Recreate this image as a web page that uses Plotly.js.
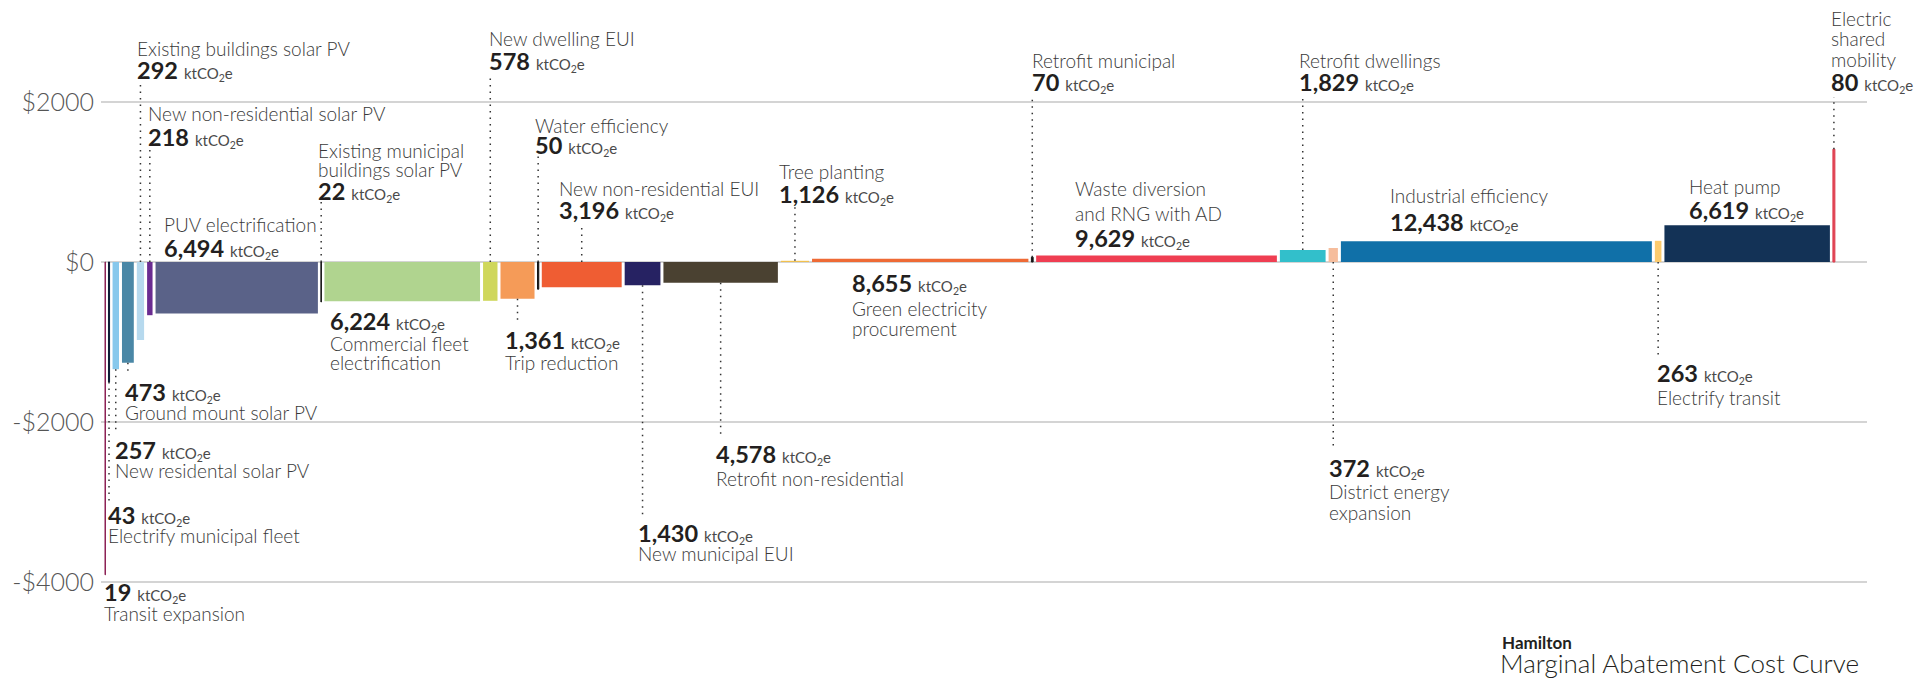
<!DOCTYPE html>
<html>
<head>
<meta charset="utf-8">
<script src="https://cdn.plot.ly/plotly-3.0.1.min.js"></script>
<style>
  html, body { margin: 0; padding: 0; background: #ffffff; }
  #chart { width: 1927px; height: 680px; }
</style>
</head>
<body>
<div id="chart"></div>
<script>
// ---------------- DATA ----------------
const categories = [
  'Transit expansion', 'Electrify municipal fleet', 'New residental solar PV', 'Ground mount solar PV',
  'Existing buildings solar PV', 'New non-residential solar PV', 'PUV electrification',
  'Existing municipal buildings solar PV', 'Commercial fleet electrification', 'New dwelling EUI',
  'Trip reduction', 'Water efficiency', 'New non-residential EUI', 'New municipal EUI',
  'Retrofit non-residential', 'Tree planting', 'Green electricity procurement', 'Retrofit municipal',
  'Waste diversion and RNG with AD', 'Retrofit dwellings', 'District energy expansion',
  'Industrial efficiency', 'Electrify transit', 'Heat pump', 'Electric shared mobility'
];
// abatement (ktCO2e) -> bar widths
const abatement = [19, 43, 257, 473, 292, 218, 6494, 22, 6224, 578, 1361, 50, 3196, 1430,
                   4578, 1126, 8655, 70, 9629, 1829, 372, 12438, 263, 6619, 80];
// marginal cost ($ / tCO2e) -> bar heights
const cost = [-3910, -1500, -1340, -1260, -975, -665, -645, -500, -490, -485, -460, -340, -315, -290,
              -260, 15, 40, 60, 80, 150, 175, 260, 265, 460, 1410];
const barColors = ['#8c2155', '#0e1a35', '#87c8ec', '#4a87a6', '#b6d9ee', '#6a2c91', '#5a6288',
                   '#1a1a1a', '#b0d48f', '#cfd75b', '#f59b58', '#151515', '#ef5d33', '#262262',
                   '#4a4131', '#f2c14e', '#ee6a35', '#151515', '#ef3e52', '#32bfcb', '#f6bd9c',
                   '#1070a8', '#fccb6e', '#133256', '#e04353'];
// label line wrapping (text)
const labelLines = [
  ['Transit expansion'], ['Electrify municipal fleet'], ['New residental solar PV'], ['Ground mount solar PV'],
  ['Existing buildings solar PV'], ['New non-residential solar PV'], ['PUV electrification'],
  ['Existing municipal', 'buildings solar PV'], ['Commercial fleet', 'electrification'], ['New dwelling EUI'],
  ['Trip reduction'], ['Water efficiency'], ['New non-residential EUI'], ['New municipal EUI'],
  ['Retrofit non-residential'], ['Tree planting'], ['Green electricity', 'procurement'], ['Retrofit municipal'],
  ['Waste diversion', 'and RNG with AD'], ['Retrofit dwellings'], ['District energy', 'expansion'],
  ['Industrial efficiency'], ['Electrify transit'], ['Heat pump'], ['Electric', 'shared', 'mobility']
];
const tickVals = [-4000, -2000, 0, 2000];
const tickText = ['-$4000', '-$2000', '$0', '$2000'];
const chartSubtitle = 'Hamilton';
const chartTitle = 'Marginal Abatement Cost Curve';

// ---------------- LAYOUT CONFIG (positions, not data) ----------------
const W = 1927, H = 680;
const M = {l: 101, r: 60, t: 5, b: 55};
const GAP = 120;                 // gap between blocks, in x units
const xRange = [-160, 70480];
const Y0PX = 262, UPP = 12.5;    // pixel row of $0 and $ per pixel
const yRange = [-(H - M.b - Y0PX) * UPP, (Y0PX - M.t) * UPP];
// label placement: side, x-offset (px) from bar centre, y-centres (px) of each text line, leader end (px)
const place = [
  {side: 'down', dx: -3,   ys: [592, 613],           lead: null},
  {side: 'down', dx: -3,   ys: [515, 535],           lead: 502},
  {side: 'down', dx: -3,   ys: [450, 470],           lead: 434},
  {side: 'down', dx: -5,   ys: [392, 412],           lead: 373},
  {side: 'up',   dx: -5,   ys: [48, 70],             lead: 80},
  {side: 'up',   dx: -4,   ys: [113, 137],           lead: 148},
  {side: 'up',   dx: -75,  ys: [224, 248],           lead: null},
  {side: 'up',   dx: -5,   ys: [150, 169, 191],      lead: 200},
  {side: 'down', dx: -74,  ys: [321, 343, 362],      lead: null},
  {side: 'up',   dx: -3,   ys: [38, 61],             lead: 75},
  {side: 'down', dx: -15,  ys: [340, 362],           lead: 323},
  {side: 'up',   dx: -5,   ys: [125, 145],           lead: 155},
  {side: 'up',   dx: -25,  ys: [188, 210],           lead: 227},
  {side: 'down', dx: -7,   ys: [533, 553],           lead: 517},
  {side: 'down', dx: -7,   ys: [454, 478],           lead: 437},
  {side: 'up',   dx: -18,  ys: [171, 194],           lead: 207},
  {side: 'down', dx: -70,  ys: [283, 308, 328],      lead: null},
  {side: 'up',   dx: -2,   ys: [60, 82],             lead: 97},
  {side: 'up',   dx: -84,  ys: [188, 213, 238],      lead: null},
  {side: 'up',   dx: -6,   ys: [60, 82],             lead: 97},
  {side: 'down', dx: -6,   ys: [468, 491, 512],      lead: 448},
  {side: 'up',   dx: -108, ys: [195, 222],           lead: null},
  {side: 'down', dx: -3,   ys: [373, 397],           lead: 358},
  {side: 'up',   dx: -60,  ys: [186, 210],           lead: null},
  {side: 'up',   dx: -5,   ys: [18, 38, 59, 82],     lead: 97}
];

const FONT = 'Lato, "Open Sans", sans-serif';
const plotH = H - M.t - M.b;
function yFromPx(py) { return (Y0PX - py) * UPP; }

// ---------------- BUILD ----------------
const xCenters = [];
let cum = 0;
abatement.forEach((w, i) => {
  xCenters.push(cum + w / 2);
  cum += w + GAP;
});

const fmt = n => n.toLocaleString('en-US');

const trace = {
  type: 'bar',
  x: xCenters,
  y: cost,
  width: abatement,
  marker: {
    color: barColors,
    line: {color: barColors, width: abatement.map(w => (w < 100 ? 1 : 0))}
  },
  textposition: 'none',
  hoverinfo: 'skip',
  showlegend: false
};

const annotations = [];
const shapes = [];

categories.forEach((c, i) => {
  const p = place[i];
  const numText = '<b>' + fmt(abatement[i]) + '</b> <span style="font-size:15px;color:#4a4a4a">ktCO<sub>2</sub>e</span>';
  const lines = p.side === 'up'
    ? labelLines[i].map(t => ({t, num: false})).concat([{t: numText, num: true}])
    : [{t: numText, num: true}].concat(labelLines[i].map(t => ({t, num: false})));
  lines.forEach((ln, k) => {
    annotations.push({
      xref: 'x', yref: 'y',
      x: xCenters[i], y: yFromPx(p.ys[k]),
      xshift: p.dx,
      xanchor: 'left', yanchor: 'middle',
      showarrow: false,
      text: ln.t,
      font: ln.num
        ? {family: FONT, size: 23.5, color: '#231f20'}
        : {family: FONT, size: 19, color: '#3a3a3a', weight: 300}
    });
  });
  if (p.lead !== null) {
    const barEnd = p.side === 'up' ? Math.max(cost[i], 0) : Math.min(cost[i], 0);
    shapes.push({
      type: 'line', xref: 'x', yref: 'y',
      x0: xCenters[i], x1: xCenters[i],
      y0: barEnd, y1: yFromPx(p.lead),
      line: {color: '#333333', width: 1.5, dash: '1.5px,5px'},
      layer: 'above'
    });
  }
});

annotations.push({
  xref: 'paper', yref: 'paper',
  x: (1500 - M.l) / (W - M.l - M.r), y: (H - M.b - 642) / plotH,
  xanchor: 'left', yanchor: 'middle', showarrow: false,
  text: '<b>' + chartSubtitle + '</b>',
  font: {family: FONT, size: 17, color: '#231f20'}
});
annotations.push({
  xref: 'paper', yref: 'paper',
  x: (1498 - M.l) / (W - M.l - M.r), y: (H - M.b - 663) / plotH,
  xanchor: 'left', yanchor: 'middle', showarrow: false,
  text: chartTitle,
  font: {family: FONT, size: 26, color: '#231f20', weight: 300}
});

const layout = {
  width: W, height: H,
  margin: M,
  paper_bgcolor: '#ffffff', plot_bgcolor: '#ffffff',
  xaxis: {
    range: xRange, showgrid: false, zeroline: false, showticklabels: false,
    showline: false, ticks: '', fixedrange: true
  },
  yaxis: {
    range: yRange, tickvals: tickVals, ticktext: tickText,
    showgrid: true, gridcolor: '#d4d4d4', gridwidth: 1.5,
    zeroline: true, zerolinecolor: '#d4d4d4', zerolinewidth: 1.5,
    showline: false, ticks: '', ticklabelstandoff: 6,
    tickfont: {family: FONT, size: 25, color: '#555555', weight: 300},
    fixedrange: true
  },
  annotations: annotations,
  shapes: shapes,
  hovermode: false,
  bargap: 0
};

Plotly.newPlot('chart', [trace], layout, {displayModeBar: false, staticPlot: true});
</script>
</body>
</html>
